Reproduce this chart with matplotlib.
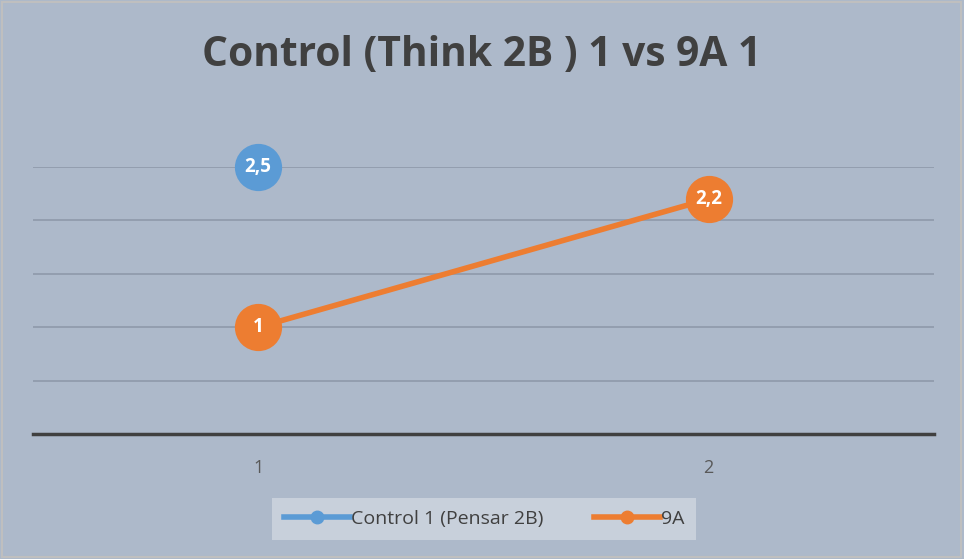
import matplotlib
matplotlib.use("Agg")
import matplotlib.pyplot as plt
from matplotlib.lines import Line2D
from matplotlib.patches import Rectangle
import numpy as np

categories = [1, 2]
control_vals = [2.5, np.nan]
ninea_vals = [1.0, 2.2]
series_names = ["Control 1 (Pensar 2B)", "9A"]
title = "Control (Think 2B ) 1 vs 9A 1"

bg = "#ADB9CA"
blue = "#5B9BD5"
orange = "#ED7D31"

plt.rcParams['font.family'] = ['Open Sans', 'DejaVu Sans']

fig = plt.figure(figsize=(9.64, 5.59), dpi=100)
fig.patch.set_facecolor(bg)
fig.patches.append(Rectangle((0.002, 0.004), 0.995, 0.993, transform=fig.transFigure,
                             fill=False, edgecolor="#BFBFBF", linewidth=1.5))

ax = fig.add_axes([33/964, 1-434/559, (934-33)/964, (434-167)/559])
ax.set_facecolor(bg)
x = np.array(categories, dtype=float)

ax.plot(x, ninea_vals, color=orange, linewidth=4, solid_capstyle='round', zorder=3,
        marker='o', markersize=34, markeredgewidth=0, clip_on=False)
ax.plot(x, control_vals, color=blue, linewidth=4, zorder=3,
        marker='o', markersize=34, markeredgewidth=0, clip_on=False)

for xi, v in zip(x, control_vals):
    if not np.isnan(v):
        ax.text(xi, v, f"{v:g}".replace('.', ','), color='white', fontsize=13.5,
                fontweight='bold', ha='center', va='center', zorder=5)
for xi, v in zip(x, ninea_vals):
    ax.text(xi, v, f"{v:g}".replace('.', ','), color='white', fontsize=13.5,
            fontweight='bold', ha='center', va='center', zorder=5)

ax.set_xlim(0.5, 2.5)
ax.set_ylim(0, 2.5)
ax.set_yticks([0.5, 1.0, 1.5, 2.0, 2.5])
ax.yaxis.grid(True, color="#8E99AA", linewidth=1.2)
ax.set_axisbelow(True)
ax.tick_params(axis='y', left=False, labelleft=False)
ax.set_xticks(x)
ax.set_xticklabels([str(c) for c in categories], color="#595959", fontsize=13)
ax.tick_params(axis='x', length=0, pad=18)
for s in ['top', 'right', 'left']:
    ax.spines[s].set_visible(False)
ax.spines['bottom'].set_color("#404040")
ax.spines['bottom'].set_linewidth(2.5)
ax.spines['bottom'].set_zorder(4)

fig.text(0.5, 1-56/559, title, ha='center', va='center', fontsize=29.3,
         fontweight='bold', color="#404040")

handles = [Line2D([0], [0], color=blue, linewidth=4, marker='o', markersize=9),
           Line2D([0], [0], color=orange, linewidth=4, marker='o', markersize=9)]
leg = fig.legend(handles, series_names, loc='center', bbox_to_anchor=(484/964, 1-519/559),
                 ncol=2, frameon=True, fontsize=14, handlelength=3.4, handletextpad=0.05,
                 columnspacing=2.6, borderpad=0.6, fancybox=False)
leg.get_frame().set_facecolor("#C8D0DB")
leg.get_frame().set_edgecolor("none")
leg.get_frame().set_alpha(1)
for t in leg.get_texts():
    t.set_color("#404040")

fig.savefig("out.png", dpi=100, facecolor=bg)
